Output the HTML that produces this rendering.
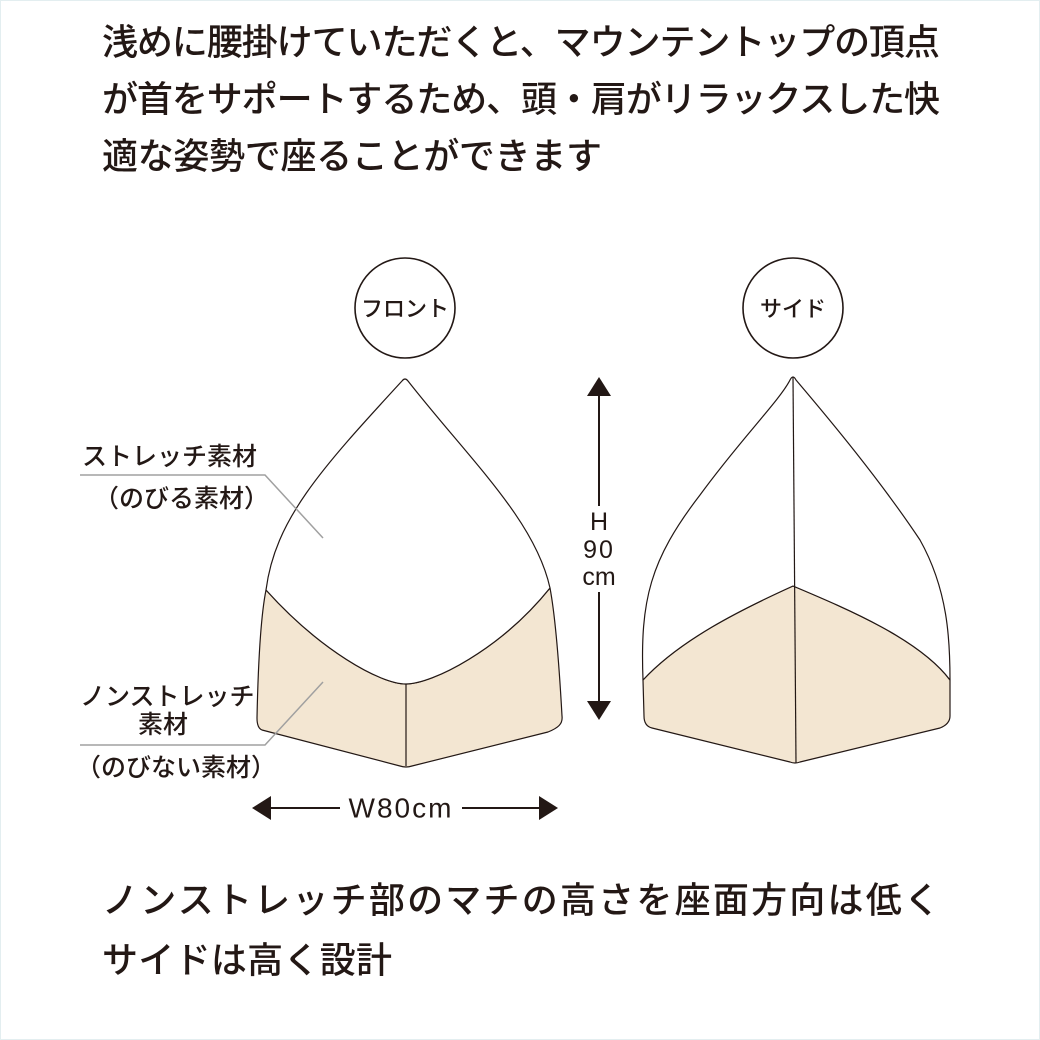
<!DOCTYPE html>
<html><head><meta charset="utf-8"><style>
html,body{margin:0;padding:0;background:#fff}
svg{display:block}
text{font-family:"Liberation Sans","Noto Sans CJK JP",sans-serif;fill:#231815;font-weight:500}
</style></head><body>
<svg width="1040" height="1040" viewBox="0 0 1040 1040" xmlns="http://www.w3.org/2000/svg">
<rect x="0.5" y="0.5" width="1039" height="1039" fill="#fff" stroke="#e3eef0"/>
<g font-size="36" dominant-baseline="central">
<text x="102" y="42" textLength="838" lengthAdjust="spacing">浅めに腰掛けていただくと、マウンテントップの頂点</text>
<text x="102" y="99" textLength="838" lengthAdjust="spacing">が首をサポートするため、頭・肩がリラックスした快</text>
<text x="102" y="156" textLength="500" lengthAdjust="spacing">適な姿勢で座ることができます</text>
<text x="102" y="900" textLength="838" lengthAdjust="spacing">ノンストレッチ部のマチの高さを座面方向は低く</text>
<text x="102" y="960" textLength="290" lengthAdjust="spacing">サイドは高く設計</text>
</g>
<circle cx="405" cy="308" r="50" fill="none" stroke="#231815" stroke-width="1.6"/>
<text x="405" y="309" font-size="22" text-anchor="middle" dominant-baseline="central">フロント</text>
<circle cx="793" cy="308" r="50" fill="none" stroke="#231815" stroke-width="1.6"/>
<text x="793" y="309" font-size="22" text-anchor="middle" dominant-baseline="central">サイド</text>
<g stroke="#231815" stroke-width="1.2" stroke-linejoin="round">
<path d="M266 590 C320 650 380 684 406 684 C432 684 500 650 550 588 C556 620 560 680 562 716 C563 724 558 728 548 732 L412 766 Q406 768 400 766 L262 730 Q257 728 257 718 C258 670 260 620 266 590 Z" fill="#f3e6d2"/>
<path d="M266 590 C275 520 320 470 402 381 Q405 377 408 381 C470 460 535 520 550 588 C500 650 432 684 406 684 C380 684 320 650 266 590 Z" fill="#fff"/>
<line x1="406" y1="684" x2="406" y2="766"/>
<path d="M643 680 C680 640 740 610 793 586 C850 610 920 640 950 680 L950 716 Q950 724 940 728 L800 762 Q795 764 790 762 L652 728 Q644 726 644 716 Z" fill="#f3e6d2"/>
<path d="M643 680 C640 600 650 560 700 495 C740 440 780 400 790 380 Q793 374 796 380 C830 420 880 480 920 540 C948 590 950 640 950 680 C920 640 850 610 793 586 C740 610 680 640 643 680 Z" fill="#fff"/>
<line x1="793" y1="377" x2="796" y2="763"/>
</g>
<g stroke="#a0a0a0" stroke-width="1.5" fill="none">
<polyline points="80,475 265,475 323,538"/>
<polyline points="80,745 265,745 323,682"/>
</g>
<g font-size="25" dominant-baseline="central">
<text x="82" y="457">ストレッチ素材</text>
<text x="94" y="499">（のびる素材）</text>
<text x="80" y="697">ノンストレッチ</text>
<text x="138" y="725">素材</text>
<text x="76" y="768">（のびない素材）</text>
</g>
<g fill="#231815" stroke="#231815" stroke-width="2">
<line x1="599" y1="392" x2="599" y2="506"/>
<line x1="599" y1="592" x2="599" y2="705"/>
<polygon points="599,377 587,396 611,396" stroke="none"/>
<polygon points="599,720 587,701 611,701" stroke="none"/>
<line x1="270" y1="808" x2="340" y2="808"/>
<line x1="462" y1="808" x2="540" y2="808"/>
<polygon points="252,808 271,796 271,820" stroke="none"/>
<polygon points="558,808 539,796 539,820" stroke="none"/>
</g>
<g font-size="25" text-anchor="middle" dominant-baseline="central">
<text x="599" y="522">H</text>
<text x="599" y="550" letter-spacing="2">90</text>
<text x="599" y="577">cm</text>
<text x="401" y="808" font-size="28" letter-spacing="2">W80cm</text>
</g>
</svg>
</body></html>
